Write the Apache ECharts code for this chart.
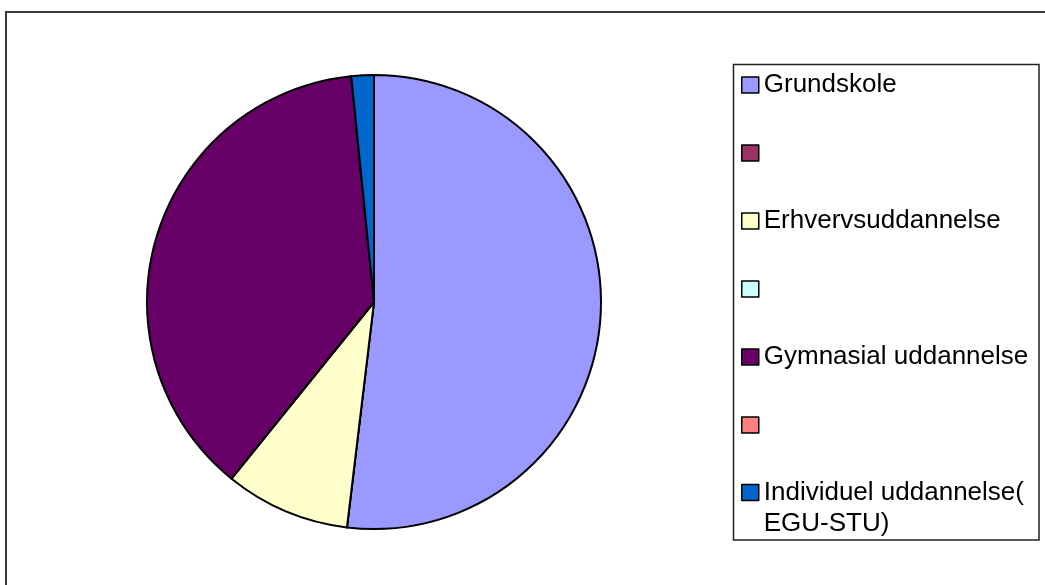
<!DOCTYPE html>
<html>
<head>
<meta charset="utf-8">
<script src="https://cdn.jsdelivr.net/npm/echarts@6/dist/echarts.min.js"></script>
<style>
  html, body { margin: 0; padding: 0; background: #fff; }
  #chart { width: 1045px; height: 585px; }
</style>
</head>
<body>
<div id="chart"></div>
<script>
const categories = ['Grundskole', ' ', 'Erhvervsuddannelse', '  ', 'Gymnasial uddannelse', '   ', 'Individuel uddannelse( EGU-STU)']
const values = [51.9, 0, 8.9, 0, 37.6, 0, 1.6]
const colors = ['#9999FF', '#993366', '#FFFFCC', '#CCFFFF', '#660066', '#FF8080', '#0066CC']

const myChart = echarts.init(document.getElementById('chart'))

const legendBase = {
  orient: 'vertical',
  left: 741,
  padding: 0,
  icon: 'rect',
  itemWidth: 17,
  itemHeight: 16,
  itemGap: 37,
  selectedMode: false,
  itemStyle: { borderColor: '#000', borderWidth: 1.5 },
  formatter: name => name,
  textStyle: {
    fontFamily: 'Liberation Sans, Arial, sans-serif',
    fontSize: 26,
    lineHeight: 31,
    color: '#000'
  }
}

myChart.setOption({
  animation: false,
  backgroundColor: '#fff',
  graphic: [
    // outer frame (only top and left edges visible)
    {
      type: 'rect',
      shape: { x: 6, y: 12, width: 1200, height: 800 },
      style: { fill: 'none', stroke: '#3a3a3a', lineWidth: 2 }
    },
    // legend box
    {
      type: 'rect',
      shape: { x: 733.5, y: 64.5, width: 305.5, height: 475.5 },
      style: { fill: 'none', stroke: '#222', lineWidth: 1.5 }
    }
  ],
  legend: [
    Object.assign({}, legendBase, {
      top: 69.5,
      data: categories.slice(0, 6)
    }),
    // last entry wraps on two lines, marker next to the first line
    Object.assign({}, legendBase, {
      top: 446,
      formatter: name => '\n' + name.replace('( ', '(\n'),
      data: categories.slice(6)
    })
  ],
  series: [
    {
      type: 'pie',
      center: [374, 302],
      radius: 227,
      startAngle: 90,
      clockwise: true,
      label: { show: false },
      labelLine: { show: false },
      emphasis: { disabled: true },
      itemStyle: { borderColor: '#000', borderWidth: 2 },
      data: categories.map((name, i) => ({
        name,
        value: values[i],
        itemStyle: { color: colors[i] }
      }))
    }
  ]
})
</script>
</body>
</html>
